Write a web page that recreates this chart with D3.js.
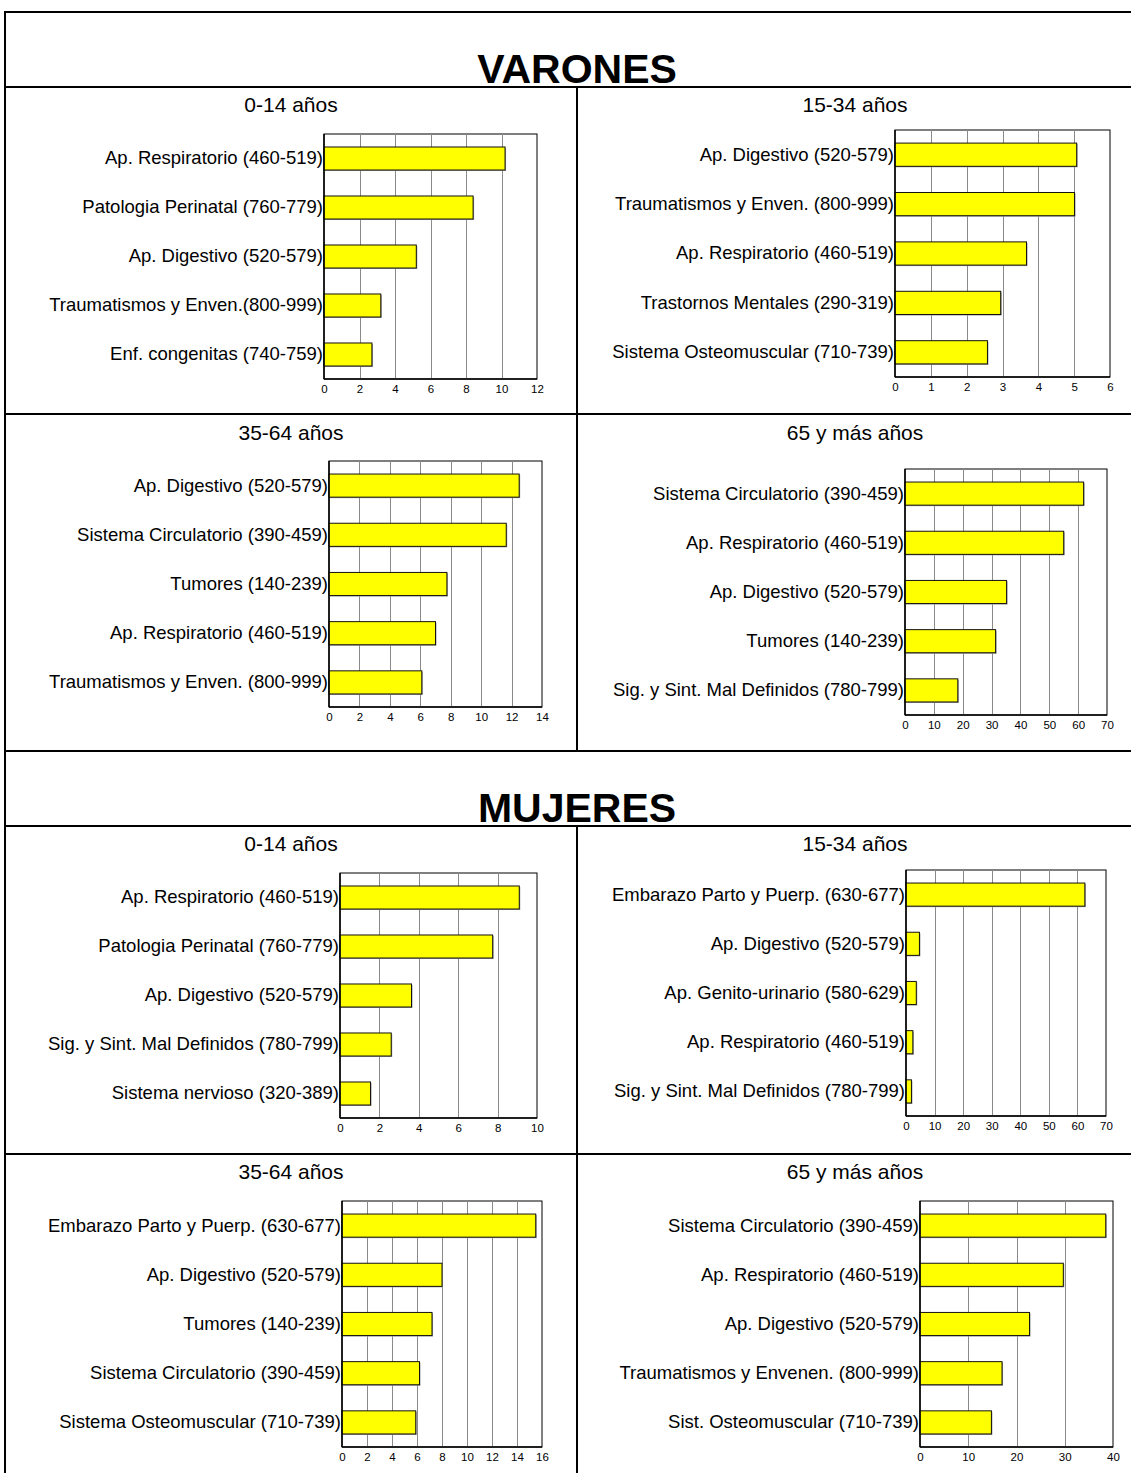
<!DOCTYPE html>
<html>
<head>
<meta charset="utf-8">
<script src="https://cdn.jsdelivr.net/npm/d3@7"></script>
<style>
  html, body { margin: 0; padding: 0; background: #fff; }
  svg { display: block; font-family: Arial, "Liberation Sans", sans-serif; }
</style>
</head>
<body>
<svg id="chart" width="1131" height="1473"></svg>
<script>
// Hospital discharges by diagnostic group, top five causes per sex and age band
const sections = ["VARONES", "MUJERES"];
const ageGroups = ["0-14 años", "15-34 años", "35-64 años", "65 y más años"];

const varones0_14Cats = ["Ap. Respiratorio (460-519)", "Patologia Perinatal (760-779)", "Ap. Digestivo (520-579)", "Traumatismos y Enven.(800-999)", "Enf. congenitas (740-759)"];
const varones0_14Vals = [10.2, 8.4, 5.2, 3.2, 2.7];

const varones15_34Cats = ["Ap. Digestivo (520-579)", "Traumatismos y Enven. (800-999)", "Ap. Respiratorio (460-519)", "Trastornos Mentales (290-319)", "Sistema Osteomuscular (710-739)"];
const varones15_34Vals = [5.07, 5.01, 3.67, 2.95, 2.58];

const varones35_64Cats = ["Ap. Digestivo (520-579)", "Sistema Circulatorio (390-459)", "Tumores (140-239)", "Ap. Respiratorio (460-519)", "Traumatismos y Enven. (800-999)"];
const varones35_64Vals = [12.5, 11.65, 7.75, 7.0, 6.1];

const varones65Cats = ["Sistema Circulatorio (390-459)", "Ap. Respiratorio (460-519)", "Ap. Digestivo (520-579)", "Tumores (140-239)", "Sig. y Sint. Mal Definidos (780-799)"];
const varones65Vals = [61.9, 55.0, 35.2, 31.4, 18.3];

const mujeres0_14Cats = ["Ap. Respiratorio (460-519)", "Patologia Perinatal (760-779)", "Ap. Digestivo (520-579)", "Sig. y Sint. Mal Definidos (780-799)", "Sistema nervioso (320-389)"];
const mujeres0_14Vals = [9.1, 7.75, 3.63, 2.6, 1.55];

const mujeres15_34Cats = ["Embarazo Parto y Puerp. (630-677)", "Ap. Digestivo (520-579)", "Ap. Genito-urinario (580-629)", "Ap. Respiratorio (460-519)", "Sig. y Sint. Mal Definidos (780-799)"];
const mujeres15_34Vals = [62.6, 4.7, 3.6, 2.4, 1.9];

const mujeres35_64Cats = ["Embarazo Parto y Puerp. (630-677)", "Ap. Digestivo (520-579)", "Tumores (140-239)", "Sistema Circulatorio (390-459)", "Sistema Osteomuscular (710-739)"];
const mujeres35_64Vals = [15.5, 8.0, 7.2, 6.2, 5.9];

const mujeres65Cats = ["Sistema Circulatorio (390-459)", "Ap. Respiratorio (460-519)", "Ap. Digestivo (520-579)", "Traumatismos y Envenen. (800-999)", "Sist. Osteomuscular (710-739)"];
const mujeres65Vals = [38.5, 29.7, 22.7, 17.0, 14.8];

// x-axis tick values for each panel
const ticks0_12 = [0, 2, 4, 6, 8, 10, 12];
const ticks0_6 = [0, 1, 2, 3, 4, 5, 6];
const ticks0_14 = [0, 2, 4, 6, 8, 10, 12, 14];
const ticks0_70 = [0, 10, 20, 30, 40, 50, 60, 70];
const ticks0_10 = [0, 2, 4, 6, 8, 10];
const ticks0_16 = [0, 2, 4, 6, 8, 10, 12, 14, 16];
const ticks0_40 = [0, 10, 20, 30, 40];

const svg = d3.select("#chart");
const FONT = "Arial, 'Liberation Sans', sans-serif";

// ---- frame and section lines ----
const W = 1131;
const frameLeft = 5;
const hLines = [12, 87, 414, 751, 826, 1154];
const frame = svg.append("g").attr("stroke", "#000").attr("stroke-width", 2);
hLines.forEach(y => frame.append("line").attr("x1", frameLeft - 1).attr("x2", W).attr("y1", y).attr("y2", y));
frame.append("line").attr("x1", frameLeft).attr("x2", frameLeft).attr("y1", 11).attr("y2", 1473);
frame.append("line").attr("x1", 577).attr("x2", 577).attr("y1", 87).attr("y2", 751);
frame.append("line").attr("x1", 577).attr("x2", 577).attr("y1", 826).attr("y2", 1473);

// ---- section headings ----
const headingY = [83, 822];
sections.forEach((s, i) => {
  svg.append("text")
    .attr("x", 577).attr("y", headingY[i])
    .attr("text-anchor", "middle")
    .attr("font-size", 41).attr("font-weight", "bold")
    .attr("fill", "#000")
    .text(s);
});

// ---- panels ----
const panels = [
  { title: ageGroups[0], cats: varones0_14Cats, vals: varones0_14Vals, ticks: ticks0_12, cx: 291, ty: 112, x0: 324, x1: 537, y0: 134, y1: 379 },
  { title: ageGroups[1], cats: varones15_34Cats, vals: varones15_34Vals, ticks: ticks0_6, cx: 855, ty: 112, x0: 895, x1: 1110, y0: 130, y1: 377 },
  { title: ageGroups[2], cats: varones35_64Cats, vals: varones35_64Vals, ticks: ticks0_14, cx: 291, ty: 440, x0: 329, x1: 542, y0: 461, y1: 707 },
  { title: ageGroups[3], cats: varones65Cats, vals: varones65Vals, ticks: ticks0_70, cx: 855, ty: 440, x0: 905, x1: 1107, y0: 469, y1: 715 },
  { title: ageGroups[0], cats: mujeres0_14Cats, vals: mujeres0_14Vals, ticks: ticks0_10, cx: 291, ty: 851, x0: 340, x1: 537, y0: 873, y1: 1118 },
  { title: ageGroups[1], cats: mujeres15_34Cats, vals: mujeres15_34Vals, ticks: ticks0_70, cx: 855, ty: 851, x0: 906, x1: 1106, y0: 870, y1: 1116 },
  { title: ageGroups[2], cats: mujeres35_64Cats, vals: mujeres35_64Vals, ticks: ticks0_16, cx: 291, ty: 1179, x0: 342, x1: 542, y0: 1201, y1: 1447 },
  { title: ageGroups[3], cats: mujeres65Cats, vals: mujeres65Vals, ticks: ticks0_40, cx: 855, ty: 1179, x0: 920, x1: 1113, y0: 1201, y1: 1447 }
];

panels.forEach(p => {
  const g = svg.append("g");

  g.append("text")
    .attr("x", p.cx).attr("y", p.ty)
    .attr("text-anchor", "middle")
    .attr("font-size", 21)
    .attr("fill", "#000")
    .text(p.title);

  const x = d3.scaleLinear()
    .domain([0, p.ticks[p.ticks.length - 1]])
    .range([p.x0, p.x1]);
  const y = d3.scaleBand()
    .domain(p.cats)
    .range([p.y0, p.y1])
    .paddingInner(0.53)
    .paddingOuter(0.265);

  // plot background frame
  g.append("rect")
    .attr("x", p.x0).attr("y", p.y0)
    .attr("width", p.x1 - p.x0).attr("height", p.y1 - p.y0)
    .attr("fill", "#fff").attr("stroke", "#000").attr("stroke-width", 1);

  // vertical gridlines
  g.append("g")
    .selectAll("line")
    .data(p.ticks.slice(1, -1))
    .join("line")
    .attr("x1", d => Math.round(x(d)) + 0.5).attr("x2", d => Math.round(x(d)) + 0.5)
    .attr("y1", p.y0).attr("y2", p.y1)
    .attr("stroke", "#8a8a8a").attr("stroke-width", 1);

  // bars with a faint grey shadow edge
  g.append("g")
    .selectAll("rect")
    .data(p.vals)
    .join("rect")
    .attr("x", x(0) + 1)
    .attr("y", (d, i) => y(p.cats[i]) + 1)
    .attr("width", d => x(d) - x(0))
    .attr("height", y.bandwidth())
    .attr("fill", "#a0a0a0");
  g.append("g")
    .selectAll("rect")
    .data(p.vals)
    .join("rect")
    .attr("x", x(0))
    .attr("y", (d, i) => y(p.cats[i]))
    .attr("width", d => x(d) - x(0))
    .attr("height", y.bandwidth())
    .attr("fill", "#ffff00")
    .attr("stroke", "#111").attr("stroke-width", 1);

  // axis lines (left and bottom, slightly heavier)
  g.append("line").attr("x1", p.x0).attr("x2", p.x0).attr("y1", p.y0).attr("y2", p.y1)
    .attr("stroke", "#000").attr("stroke-width", 1.5);
  g.append("line").attr("x1", p.x0).attr("x2", p.x1).attr("y1", p.y1).attr("y2", p.y1)
    .attr("stroke", "#000").attr("stroke-width", 1.5);

  // category axis labels
  const yAxis = d3.axisLeft(y).tickSize(0).tickPadding(1);
  const ya = g.append("g").attr("transform", `translate(${p.x0},0)`).call(yAxis);
  ya.select(".domain").remove();
  ya.selectAll("text").attr("font-size", 18.5).attr("font-family", FONT).attr("fill", "#000");

  // value axis labels
  const xAxis = d3.axisBottom(x).tickValues(p.ticks).tickSize(0).tickPadding(6).tickFormat(d3.format("d"));
  const xa = g.append("g").attr("transform", `translate(0,${p.y1})`).call(xAxis);
  xa.select(".domain").remove();
  xa.selectAll("text").attr("font-size", 11.5).attr("font-family", FONT).attr("fill", "#000");
});
</script>
</body>
</html>
